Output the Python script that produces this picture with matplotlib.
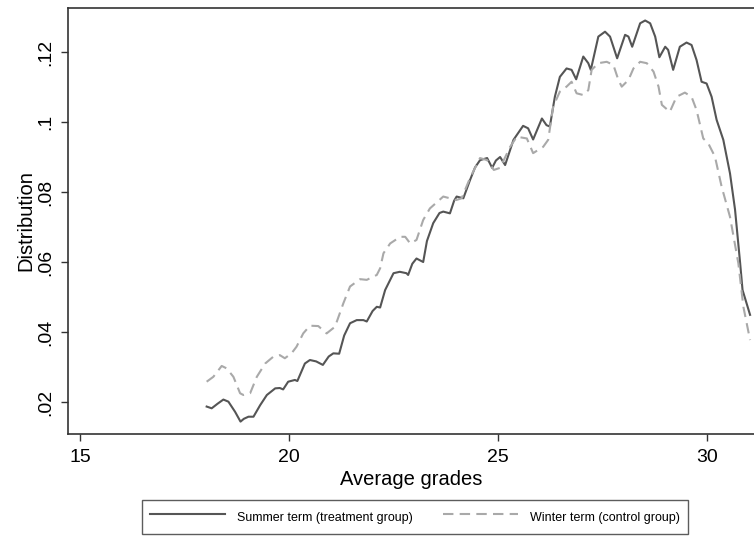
import matplotlib.pyplot as plt

# Kernel density of average grades, summer vs winter term
summer_x = [18.03, 18.15, 18.29, 18.43, 18.55, 18.71, 18.84, 18.92, 19.03, 19.15,
            19.31, 19.47, 19.67, 19.78, 19.86, 19.98, 20.14, 20.20, 20.38, 20.50,
            20.65, 20.81, 20.95, 21.06, 21.20, 21.32, 21.46, 21.62, 21.78, 21.86,
            22.00, 22.10, 22.18, 22.30, 22.50, 22.65, 22.81, 22.85, 22.95, 23.05,
            23.21, 23.30, 23.45, 23.60, 23.69, 23.85, 23.95, 24.01, 24.17, 24.33,
            24.45, 24.57, 24.74, 24.86, 24.95, 25.05, 25.17, 25.37, 25.60, 25.72,
            25.84, 26.05, 26.16, 26.24, 26.36, 26.48, 26.64, 26.76, 26.87, 27.04,
            27.16, 27.22, 27.40, 27.56, 27.68, 27.85, 28.04, 28.12, 28.21, 28.40,
            28.52, 28.64, 28.76, 28.86, 29.00, 29.07, 29.19, 29.35, 29.51, 29.63,
            29.75, 29.87, 29.99, 30.11, 30.23, 30.39, 30.55, 30.67, 30.79, 30.85,
            31.03]
summer_y = [.0187, .0182, .0195, .0207, .0201, .0172, .0144, .0152, .0158, .0158,
            .0191, .0220, .0239, .0240, .0236, .0258, .0263, .0260, .0310, .0320,
            .0316, .0306, .0330, .0339, .0338, .0390, .0425, .0434, .0434, .0430,
            .0460, .0472, .0470, .0520, .0568, .0572, .0568, .0563, .0595, .0610,
            .0600, .0660, .0711, .0740, .0744, .0739, .0775, .0787, .0782, .0834,
            .0870, .0891, .0897, .0869, .0890, .0900, .0877, .0949, .0989, .0982,
            .0950, .1010, .0991, .0987, .1072, .1129, .1153, .1149, .1122, .1187,
            .1168, .1149, .1244, .1258, .1244, .1182, .1249, .1244, .1215, .1282,
            .1290, .1282, .1244, .1185, .1215, .1206, .1149, .1215, .1227, .1220,
            .1177, .1115, .1110, .1072, .1006, .0949, .0853, .0750, .0600, .0520,
            .0449]

winter_x = [18.03, 18.19, 18.39, 18.51, 18.67, 18.83, 18.91, 19.07, 19.23, 19.43,
            19.62, 19.78, 19.90, 20.06, 20.18, 20.34, 20.50, 20.70, 20.90, 21.10,
            21.30, 21.46, 21.70, 21.86, 22.10, 22.18, 22.26, 22.42, 22.66, 22.78,
            22.90, 23.05, 23.21, 23.37, 23.69, 23.85, 24.00, 24.13, 24.33, 24.57,
            24.74, 24.90, 25.05, 25.29, 25.45, 25.69, 25.84, 26.08, 26.20, 26.32,
            26.48, 26.64, 26.76, 26.88, 27.04, 27.16, 27.24, 27.40, 27.60, 27.76,
            27.88, 27.96, 28.12, 28.24, 28.40, 28.56, 28.72, 28.84, 28.92, 29.11,
            29.27, 29.47, 29.63, 29.75, 29.91, 30.03, 30.19, 30.35, 30.55, 30.75,
            30.87, 31.03]
winter_y = [.0258, .0272, .0303, .0296, .0272, .0225, .0220, .0225, .0272, .0310,
            .0329, .0334, .0325, .0339, .0358, .0396, .0418, .0417, .0396, .0415,
            .0482, .0530, .0551, .0549, .0563, .0582, .0625, .0653, .0672, .0672,
            .0653, .0663, .0720, .0753, .0787, .0782, .0777, .0782, .0840, .0897,
            .0891, .0863, .0869, .0929, .0958, .0953, .0911, .0929, .0949, .1044,
            .1087, .1101, .1115, .1082, .1077, .1091, .1149, .1168, .1172, .1163,
            .1120, .1101, .1120, .1153, .1172, .1168, .1144, .1101, .1049, .1029,
            .1072, .1084, .1072, .1034, .0953, .0939, .0901, .0815, .0729, .0596,
            .0472, .0377]

x_ticks = [15, 20, 25, 30]
y_ticks = [.02, .04, .06, .08, .1, .12]
y_tick_labels = [".02", ".04", ".06", ".08", ".1", ".12"]

plt.rcParams["font.family"] = ["Liberation Sans", "DejaVu Sans"]

fig = plt.figure(figsize=(7.54, 5.36), dpi=100)
ax = fig.add_axes([68 / 754, 102 / 536, 686 / 754, 426 / 536])

ax.plot(summer_x, summer_y, color="#555555", linewidth=1.5,
        label="Summer term (treatment group)")
ax.plot(winter_x, winter_y, color="#a9a9a9", linewidth=1.5,
        linestyle=(0, (5, 3)), label="Winter term (control group)")

ax.set_xlim(14.713, 31.124)
ax.set_ylim(0.01086, 0.13257)
ax.set_xticks(x_ticks)
ax.set_yticks(y_ticks)
ax.set_yticklabels(y_tick_labels)

for side in ["left", "bottom", "top"]:
    ax.spines[side].set_color("#333333")
    ax.spines[side].set_linewidth(1.2)
ax.spines["right"].set_visible(False)

ax.tick_params(axis="both", direction="out", length=5, width=1,
               color="#333333", labelsize=14)
ax.tick_params(axis="x", pad=6)
ax.tick_params(axis="y", pad=5, labelrotation=90)
for lbl in ax.get_yticklabels():
    lbl.set_va("center")

ax.set_xlabel("Average grades", fontsize=14.5, labelpad=3)
ax.set_ylabel("Distribution", fontsize=14.5, labelpad=1)

leg = ax.legend(loc="upper left", bbox_to_anchor=(142 / 754, 1 - 500 / 536),
                bbox_transform=fig.transFigure, ncol=2, fontsize=9,
                frameon=True, fancybox=False, edgecolor="#333333",
                handlelength=6, handletextpad=1.0, columnspacing=2.4,
                handleheight=1.9, borderpad=0.6, borderaxespad=0)
leg.get_frame().set_linewidth(1)

fig.savefig("out.png", dpi=100)
